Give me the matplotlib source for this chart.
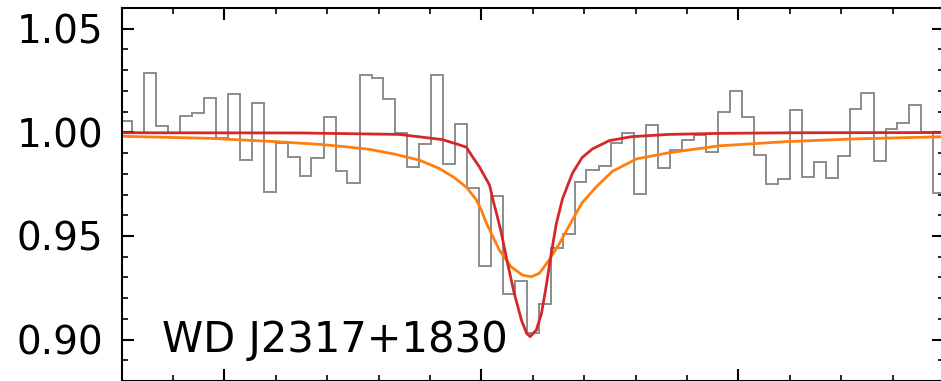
#!/usr/bin/env python3
# -*- coding: utf-8 -*-
"""
WD J2317+1830 光谱线轮廓图 (观测数据 + 两条模型曲线)
"""

import numpy as np
import matplotlib
matplotlib.use('Agg')
import matplotlib.pyplot as plt
from matplotlib.ticker import MultipleLocator

plt.rcParams['font.family'] = ['DejaVu Sans']

# 观测光谱: 像素中心波长 (Å) 和归一化流量
wave = [4473.09, 4473.33, 4473.56, 4473.79, 4474.02, 4474.26, 4474.49, 4474.72,
        4474.95, 4475.19, 4475.42, 4475.65, 4475.88, 4476.12, 4476.35, 4476.58,
        4476.81, 4477.05, 4477.28, 4477.51, 4477.75, 4477.98, 4478.21, 4478.44,
        4478.68, 4478.91, 4479.14, 4479.37, 4479.61, 4479.84, 4480.07, 4480.30,
        4480.54, 4480.77, 4481.00, 4481.23, 4481.47, 4481.70, 4481.93, 4482.16,
        4482.40, 4482.63, 4482.86, 4483.09, 4483.33, 4483.56, 4483.79, 4484.02,
        4484.26, 4484.49, 4484.72, 4484.96, 4485.19, 4485.42, 4485.65, 4485.89,
        4486.12, 4486.35, 4486.58, 4486.82, 4487.05, 4487.28, 4487.51, 4487.75,
        4487.98, 4488.21, 4488.44, 4488.68, 4488.91]
flux = [1.0055, 0.9995, 1.0285, 1.0030, 0.9998, 1.0080, 1.0095, 1.0167,
        0.9974, 1.0185, 0.9866, 1.0142, 0.9713, 0.9950, 0.9882, 0.9791,
        0.9875, 1.0075, 0.9815, 0.9757, 1.0277, 1.0264, 1.0161, 0.9998,
        0.9831, 0.9944, 1.0277, 0.9847, 1.0040, 0.9730, 0.9355, 0.9693,
        0.9220, 0.9284, 0.9030, 0.9171, 0.9440, 0.9508, 0.9762, 0.9818,
        0.9837, 0.9950, 0.9998, 0.9702, 1.0035, 0.9826, 0.9915, 0.9963,
        0.9987, 0.9903, 1.0096, 1.0201, 1.0072, 0.9889, 0.9749, 0.9773,
        1.0108, 0.9786, 0.9858, 0.9781, 0.9886, 1.0113, 1.0188, 0.9863,
        1.0014, 1.0043, 1.0132, 1.0000, 0.9709]

# 模型1 (窄线, 红色)
model_red_wave = [4473.00, 4476.46, 4478.40, 4479.24, 4479.57, 4479.71, 4479.82,
                  4479.96, 4480.06, 4480.16, 4480.23, 4480.31, 4480.39, 4480.51,
                  4480.64, 4480.78, 4480.88, 4480.95, 4481.07, 4481.17, 4481.26,
                  4481.36, 4481.46, 4481.58, 4481.77, 4481.96, 4482.16, 4482.49,
                  4482.92, 4483.66, 4484.63, 4486.19, 4489.00]
model_red_flux = [0.9998, 0.9997, 0.9990, 0.9965, 0.9940, 0.9928, 0.9885,
                  0.9834, 0.9790, 0.9745, 0.9670, 0.9595, 0.9513, 0.9368,
                  0.9223, 0.9094, 0.9030, 0.9014, 0.9046, 0.9126, 0.9255,
                  0.9416, 0.9561, 0.9680, 0.9802, 0.9878, 0.9920, 0.9960,
                  0.9979, 0.9990, 0.9995, 0.9998, 0.9999]

# 模型2 (宽线, 橙色)
model_orange_wave = [4473.00, 4474.71, 4476.01, 4476.85, 4477.33, 4477.82, 4478.31,
                     4478.79, 4479.18, 4479.47, 4479.71, 4479.90, 4480.00, 4480.10,
                     4480.35, 4480.58, 4480.80, 4480.97, 4481.13, 4481.32, 4481.52,
                     4481.77, 4481.96, 4482.24, 4482.55, 4483.02, 4483.66, 4484.63,
                     4485.93, 4487.22, 4489.00]
model_orange_flux = [0.9981, 0.9971, 0.9955, 0.9942, 0.9931, 0.9918, 0.9895,
                     0.9866, 0.9826, 0.9782, 0.9735, 0.9675, 0.9625, 0.9561,
                     0.9432, 0.9351, 0.9311, 0.9303, 0.9320, 0.9384, 0.9464,
                     0.9577, 0.9660, 0.9738, 0.9812, 0.9872, 0.9902, 0.9935,
                     0.9955, 0.9968, 0.9979]

star_name = 'WD J2317+1830'


def main():
    fig = plt.figure(figsize=(9.41, 3.81), dpi=100)
    ax = fig.add_axes([121.5 / 941, 0.0, 822.5 / 941, 1 - 8 / 381])

    # 像素边界 (由中心波长得到)
    w = np.array(wave)
    dw = w[1] - w[0]
    edges = np.concatenate([[w[0] - dw / 2], (w[1:] + w[:-1]) / 2, [w[-1] + dw / 2]])
    ax.stairs(flux, edges, baseline=None, color='#8c8c8c', linewidth=1.4)

    ax.plot(model_orange_wave, model_orange_flux, color='#ff7f0e', linewidth=2.0)
    ax.plot(model_red_wave, model_red_flux, color='#d62728', linewidth=2.0)

    ax.set_xlim(4473, 4489)
    ax.set_ylim(0.88, 1.06)

    ax.xaxis.set_major_locator(MultipleLocator(5))
    ax.xaxis.set_minor_locator(MultipleLocator(1))
    ax.yaxis.set_major_locator(MultipleLocator(0.05))
    ax.yaxis.set_minor_locator(MultipleLocator(0.01))

    ax.tick_params(which='both', direction='in', top=True, right=True,
                   labelbottom=False)
    ax.tick_params(which='major', length=8.5, width=1.5, labelsize=28, pad=13)
    ax.tick_params(which='minor', length=4.5, width=1.2)
    ax.yaxis.set_major_formatter(plt.FormatStrFormatter('%.2f'))

    for sp in ax.spines.values():
        sp.set_linewidth(1.5)

    ax.text(4473.79, 0.894, star_name, fontsize=30, ha='left', va='baseline')

    fig.savefig('out.png', dpi=100)
    plt.close(fig)


if __name__ == '__main__':
    main()
